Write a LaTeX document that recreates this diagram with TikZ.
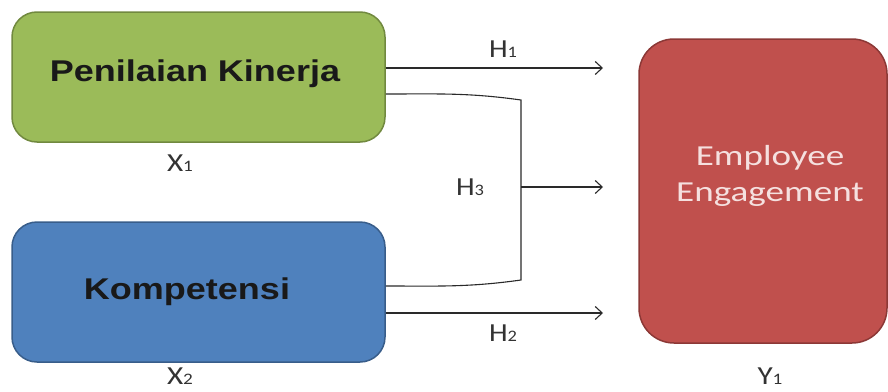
\documentclass[tikz,border=0pt]{standalone}
\usepackage{fontspec}
\setmainfont{Carlito}
\newfontfamily\arialfont{Liberation Sans}
\usetikzlibrary{arrows.meta}
\definecolor{gfill}{HTML}{9BBB59}
\definecolor{gdraw}{HTML}{71893F}
\definecolor{bfill}{HTML}{4F81BD}
\definecolor{bdraw}{HTML}{385D8A}
\definecolor{rfill}{HTML}{C0504D}
\definecolor{rdraw}{HTML}{8C3836}
\definecolor{rtext}{HTML}{F5E0DF}
\definecolor{linec}{HTML}{2A2A2A}
\tikzset{
  box/.style={draw, line width=1.5pt, inner sep=0pt},
  boxtext/.style={font=\arialfont\bfseries\fontsize{30}{34}\selectfont, text=black!90, inner sep=0pt},
  lbl/.style={font=\fontsize{26}{30}\selectfont, text=black!80, inner sep=0pt},
  conn/.style={draw=linec, line width=1.1pt},
  arr/.style={conn, -{Straight Barb[length=7pt,width=13pt,line width=1.1pt]}}
}
\newcommand{\sub}[1]{{\fontsize{16}{18}\selectfont #1}}
\begin{document}
\begin{tikzpicture}[x=1pt,y=-1pt]
\useasboundingbox (0,0) rectangle (888,391);
% boxes
\node[box, fill=gfill, draw=gdraw, rounded corners=25pt, minimum width=373pt, minimum height=130pt] (pk) at (198.5,77) {};
\node[boxtext] (pkt) at (195,74) {\scalebox{1.2}[1]{Penilaian Kinerja}};
\node[box, fill=bfill, draw=bdraw, rounded corners=25pt, minimum width=373pt, minimum height=140pt] (ko) at (198.5,292) {};
\node[boxtext] (kot) at (187,292) {\scalebox{1.2}[1]{Kompetensi}};
\node[box, fill=rfill, draw=rdraw, rounded corners=35pt, minimum width=248pt, minimum height=304pt] (ee) at (763,191) {};
\node[font=\fontsize{29}{36}\selectfont, text=rtext, align=center, inner sep=0pt] (eet) at (770,176) {\scalebox{1.28}[1]{Employee}\\\scalebox{1.28}[1]{Engagement}};
% variable labels
\node[lbl] (x1) at (180,163) {\scalebox{1.2}[1]{X\sub{1}}};
\node[lbl] (x2) at (180,376) {\scalebox{1.2}[1]{X\sub{2}}};
\node[lbl] (y1) at (770,376) {\scalebox{1.2}[1]{Y\sub{1}}};
% connector end points
\coordinate (a1) at (603,68);
\coordinate (a2) at (603,313);
\coordinate (a3) at (603,187);
\coordinate (j3) at (521,187);
\coordinate (b1) at (521,100);
\coordinate (b2) at (521,280);
% arrows
\draw[arr] (pk.east |- a1) -- (a1) node[lbl, pos=0.54, above=10pt] (h1) {\scalebox{1.15}[1]{H\sub{1}}};
\draw[arr] (ko.east |- a2) -- (a2) node[lbl, pos=0.54, below=11pt] (h2) {\scalebox{1.15}[1]{H\sub{2}}};
\draw[conn] ([yshift=-17pt]pk.east) to[out=0,in=172] (b1) -- (b2) to[out=188,in=0] ([yshift=6pt]ko.east);
\draw[arr] (j3) -- (a3);
\node[lbl] (h3) at (470,187) {\scalebox{1.15}[1]{H\sub{3}}};
\end{tikzpicture}
\end{document}
